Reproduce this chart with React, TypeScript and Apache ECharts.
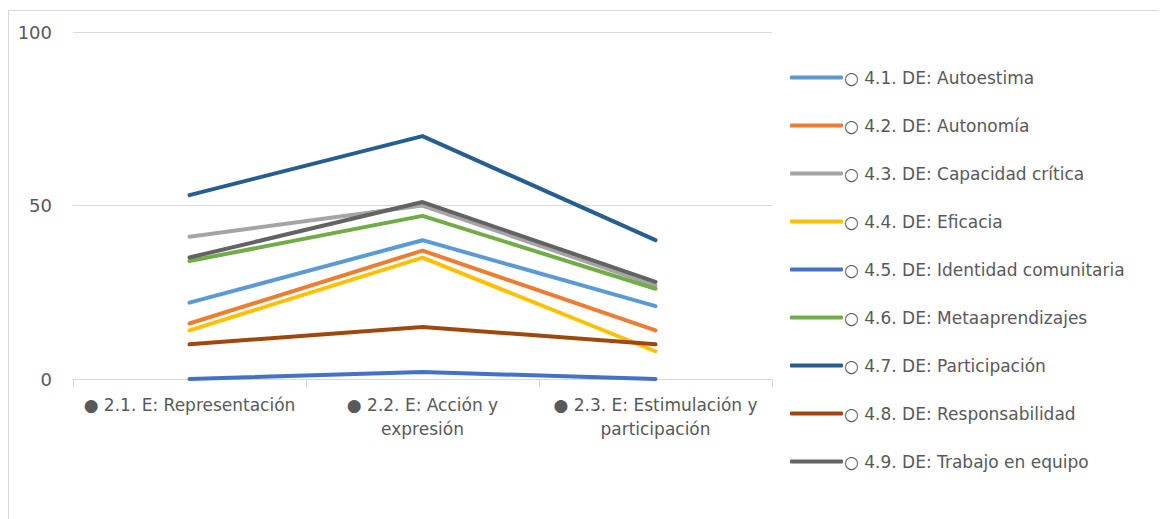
import React, { useEffect, useRef } from "react";
import * as echarts from "echarts";

const categories = [
  "● 2.1. E: Representación",
  "● 2.2. E: Acción y\nexpresión",
  "● 2.3. E: Estimulación y\nparticipación",
];

const seriesNames = [
  "○ 4.1. DE: Autoestima",
  "○ 4.2. DE: Autonomía",
  "○ 4.3. DE: Capacidad crítica",
  "○ 4.4. DE: Eficacia",
  "○ 4.5. DE: Identidad comunitaria",
  "○ 4.6. DE: Metaaprendizajes",
  "○ 4.7. DE: Participación",
  "○ 4.8. DE: Responsabilidad",
  "○ 4.9. DE: Trabajo en equipo",
];

const autoestima = [22, 40, 21];
const autonomia = [16, 37, 14];
const capacidadCritica = [41, 50, 27];
const eficacia = [14, 35, 8];
const identidadComunitaria = [0, 2, 0];
const metaaprendizajes = [34, 47, 26];
const participacion = [53, 70, 40];
const responsabilidad = [10, 15, 10];
const trabajoEnEquipo = [35, 51, 28];

const seriesValues = [
  autoestima,
  autonomia,
  capacidadCritica,
  eficacia,
  identidadComunitaria,
  metaaprendizajes,
  participacion,
  responsabilidad,
  trabajoEnEquipo,
];

const colors = [
  "#5B9BD5",
  "#ED7D31",
  "#A5A5A5",
  "#FFC000",
  "#4472C4",
  "#70AD47",
  "#255E91",
  "#9E480E",
  "#636363",
];

const yTicks = [0, 50, 100];

export default function App() {
  const ref = useRef<HTMLDivElement>(null);
  useEffect(() => {
    if (!ref.current) return;
    const chart = echarts.init(ref.current, null, { renderer: "svg" });
    const font = "'DejaVu Sans', sans-serif";
    chart.setOption({
      animation: false,
      color: colors,
      textStyle: { fontFamily: font },
      graphic: [
        {
          type: "rect",
          shape: { x: 0.5, y: 2.5, width: 1170, height: 530 },
          style: { fill: "none", stroke: "#D9D9D9", lineWidth: 1 },
          silent: true,
        },
      ],
      grid: { left: 65, right: 394, top: 24, bottom: 140, containLabel: false },
      legend: {
        orient: "vertical",
        left: 777,
        top: 56,
        itemWidth: 53,
        itemHeight: 4,
        itemGap: 31,
        icon: "roundRect",
        data: seriesNames,
        textStyle: {
          color: "#595959",
          fontSize: 17,
          fontFamily: font,
          lineHeight: 17,
          padding: [0, 0, 0, -4],
        },
      },
      xAxis: {
        type: "category",
        data: categories,
        boundaryGap: true,
        axisLine: { lineStyle: { color: "#D9D9D9", width: 1 } },
        axisTick: { show: true, length: 8, lineStyle: { color: "#D9D9D9" } },
        axisLabel: {
          color: "#595959",
          fontSize: 17,
          fontFamily: font,
          lineHeight: 24,
          margin: 14,
          interval: 0,
        },
      },
      yAxis: {
        type: "value",
        min: 0,
        max: 100,
        interval: 50,
        axisLine: { show: false },
        axisTick: { show: false },
        splitLine: { lineStyle: { color: "#D9D9D9", width: 1 } },
        axisLabel: {
          color: "#595959",
          fontSize: 18,
          fontFamily: font,
          margin: 21,
          formatter: (v: number) => (yTicks.includes(v) ? String(v) : ""),
        },
      },
      series: seriesNames.map((name, i) => ({
        name,
        type: "line",
        data: seriesValues[i],
        symbol: "none",
        lineStyle: { width: 4, color: colors[i], cap: "round", join: "round" },
        itemStyle: { color: colors[i] },
      })),
    });
    return () => chart.dispose();
  }, []);
  return <div ref={ref} style={{ width: 1158, height: 511 }} />;
}
